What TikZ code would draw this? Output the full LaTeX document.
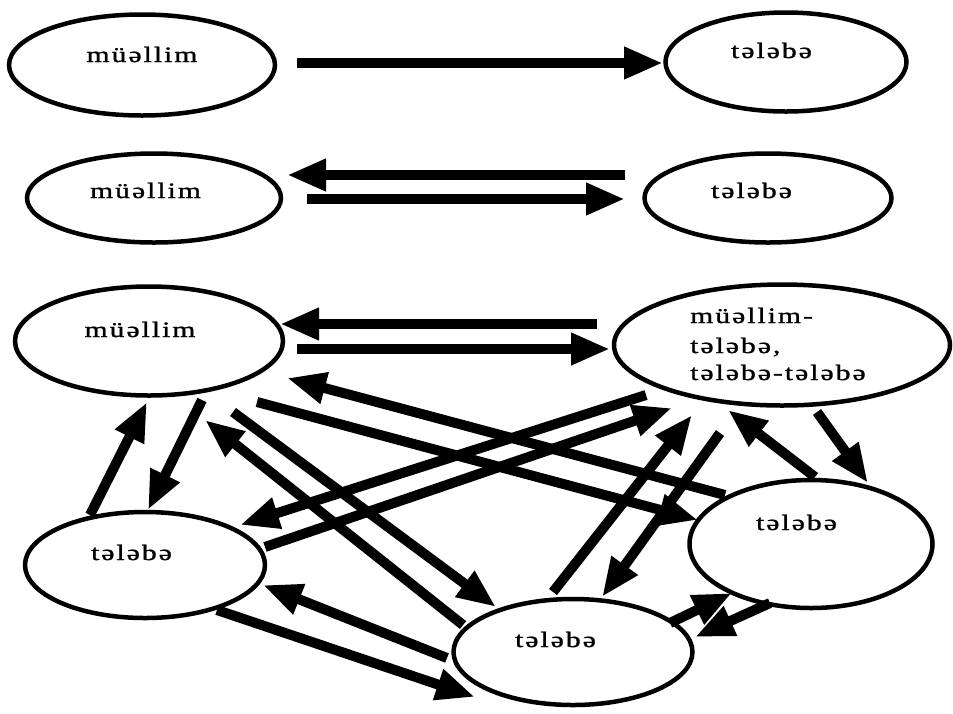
\documentclass[tikz,border=0pt]{standalone}
\usepackage{fontspec}
\setmainfont{Liberation Serif}
\newfontfamily\lblfont{Liberation Serif}[FakeStretch=1.35,LetterSpace=9,FakeBold=1.2]
\usetikzlibrary{arrows.meta,shapes.geometric,calc}
\tikzset{
  oval/.style={ellipse, draw, line width=4.5pt, fill=white, inner sep=0pt},
  lbl/.style={font=\lblfont\fontsize{22}{24}\selectfont, inner sep=0pt, anchor=base},
  lblw/.style={lbl, anchor=base west},
  arr/.style={line width=10pt, -{Triangle[length=39pt,width=30pt]}},
}
\begin{document}
\begin{tikzpicture}[x=1pt,y=-1pt]
\useasboundingbox[fill=white] (0,0) rectangle (953,713);
% ellipses
\node[oval, minimum width=266pt, minimum height=101pt] (e1) at (142,65) {};
\node[oval, minimum width=241pt, minimum height=99pt]  (e2) at (786,62) {};
\node[oval, minimum width=254pt, minimum height=89pt]  (e3) at (154,198) {};
\node[oval, minimum width=247pt, minimum height=89pt]  (e4) at (768,198) {};
\node[oval, minimum width=268pt, minimum height=109pt] (e5) at (149,341) {};
\node[oval, minimum width=336pt, minimum height=121pt] (e6) at (782,345) {};
\node[oval, minimum width=240pt, minimum height=106pt] (e7) at (145,565) {};
\node[oval, minimum width=243pt, minimum height=128pt] (e8) at (811,544) {};
\node[oval, minimum width=239pt, minimum height=106pt] (e9) at (573,652) {};
% labels
\node[lbl] (t1) at ($(e1.center)+(0,-3)$) {müəllim};
\node[lbl] (t2) at ($(e2.center)+(-14.5,-4)$) {tələbə};
\node[lbl] (t3) at ($(e3.center)+(-8.5,0)$) {müəllim};
\node[lbl] (t4) at ($(e4.center)+(-16.5,0)$) {tələbə};
\node[lbl] (t5) at ($(e5.center)+(-9,-4)$) {müəllim};
\node[lblw] (t6a) at ($(e6.center)+(-92,-22)$) {müəllim-};
\node[lblw] (t6b) at ($(e6.center)+(-92,8)$) {tələbə,};
\node[lblw] (t6c) at ($(e6.center)+(-92,35)$) {tələbə-tələbə};
\node[lbl] (t7) at ($(e7.center)+(-13.5,-5)$) {tələbə};
\node[lbl] (t8) at ($(e8.center)+(-14.5,-14)$) {tələbə};
\node[lbl] (t9) at ($(e9.center)+(-17.5,-5)$) {tələbə};
% horizontal arrows
\draw[arr] ($(e1.center)+(155,-2)$) -- ($(e2.center)+(-123,1)$);
\draw[arr] ($(e4.center)+(-143,-23)$) -- ($(e3.center)+(133,-23)$);
\draw[arr] ($(e3.center)+(153,1)$) -- ($(e4.center)+(-143,1)$);
\draw[arr] ($(e6.center)+(-185,-21)$) -- ($(e5.center)+(131,-17)$);
\draw[arr] ($(e5.center)+(148,8)$) -- ($(e6.center)+(-172,4)$);
% network arrows
\draw[arr] ($(e7.center)+(-55,-50)$) -- ($(e5.center)+(-2,61)$);
\draw[arr] ($(e5.center)+(53,59)$) -- ($(e7.center)+(3,-55)$);
\draw[arr] ($(e9.center)+(-110,-27)$) -- ($(e5.center)+(56,79)$);
\draw[arr] ($(e5.center)+(84,71)$) -- ($(e9.center)+(-77,-45)$);
\draw[arr] ($(e5.center)+(108,61)$) -- ($(e8.center)+(-113,-24)$);
\draw[arr] ($(e8.center)+(-86,-49)$) -- ($(e5.center)+(138,37)$);
\draw[arr] ($(e6.center)+(-136,50)$) -- ($(e7.center)+(95,-40)$);
\draw[arr] ($(e7.center)+(120,-18)$) -- ($(e6.center)+(-110,63)$);
\draw[arr] ($(e9.center)+(-20,-60)$) -- ($(e6.center)+(-90,70)$);
\draw[arr] ($(e6.center)+(-62,88)$) -- ($(e9.center)+(29,-55)$);
\draw[arr] ($(e8.center)+(4,-67)$) -- ($(e6.center)+(-54,65)$);
\draw[arr] ($(e6.center)+(35,67)$) -- ($(e8.center)+(57,-61)$);
\draw[arr] ($(e9.center)+(97,-29)$) -- ($(e8.center)+(-79,49)$);
\draw[arr] ($(e8.center)+(-41,59)$) -- ($(e9.center)+(122,-15)$);
\draw[arr] ($(e9.center)+(-126,6)$) -- ($(e7.center)+(118,20)$);
\draw[arr] ($(e7.center)+(72,45)$) -- ($(e9.center)+(-98,45)$);
\end{tikzpicture}
\end{document}
